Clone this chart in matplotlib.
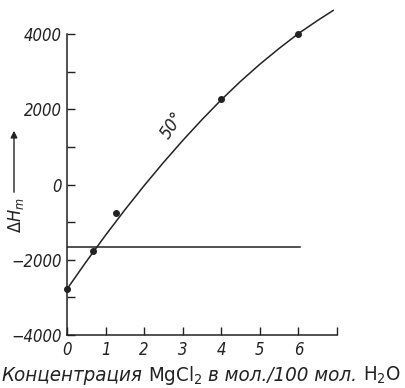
import matplotlib
matplotlib.use('Agg')
import matplotlib.pyplot as plt

# Данные
curve_x = [0, 0.5, 1.0, 1.5, 2.0, 2.5, 3.0, 3.5, 4.0, 4.5, 5.0, 5.5, 6.0, 6.5, 6.9]
curve_y = [-2780, -2049, -1347, -674, -30, 584, 1169, 1725, 2252, 2742, 3197, 3617, 4012, 4362, 4626]
pts_x = [0, 0.67, 1.26, 4.0, 6.0]
pts_y = [-2780, -1777, -752, 2260, 4010]
level_x = [0, 6.05]
level_y = [-1663, -1663]
xticks = [0, 1, 2, 3, 4, 5, 6, 7]
xlabels = ['0', '1', '2', '3', '4', '5', '6', '']
yticks = [-4000, -2000, 0, 2000, 4000]
ylabels = ['\u22124000', '\u22122000', '0', '2000', '4000']
yminor = [-3000, -1000, 1000, 3000]

plt.rcParams['font.family'] = ['DejaVu Sans']
plt.rcParams['font.stretch'] = 'condensed'
plt.rcParams['mathtext.fontset'] = 'dejavusans'

W, H = 405, 388
fig = plt.figure(figsize=(W / 100, H / 100), dpi=100)
ax = fig.add_axes([67 / W, 1 - 335 / H, 270 / W, 301 / H])
ink = '#222222'

ax.plot(curve_x, curve_y, color=ink, lw=1.1, clip_on=False)
ax.plot(pts_x, pts_y, 'o', color=ink, ms=4, clip_on=False)
ax.plot(level_x, level_y, color=ink, lw=1.1)

ax.set_xlim(0, 7)
ax.set_ylim(-4000, 4000)
ax.set_xticks(xticks)
ax.set_xticklabels(xlabels, style='italic', fontsize=12)
ax.set_yticks(yticks)
ax.set_yticklabels(ylabels, style='italic', fontsize=12)
ax.set_yticks(yminor, minor=True)
ax.tick_params(direction='in', length=6, width=1, color=ink, labelcolor=ink, pad=4)
ax.tick_params(which='minor', direction='in', length=6, width=1, color=ink)
for s in ['top', 'right']:
    ax.spines[s].set_visible(False)
for s in ['left', 'bottom']:
    ax.spines[s].set_color(ink)
    ax.spines[s].set_linewidth(1.1)

ax.text(2.72, 1580, '50°', rotation=57, style='italic', fontsize=13,
        color=ink, ha='center', va='center')

# подпись оси Y со стрелкой
fig.text(16 / W, 1 - 215 / H, r'$\mathit{\Delta H_m}$', rotation=90, fontsize=13,
         color=ink, ha='center', va='center')
ax.annotate('', xy=(14 / W, 1 - 128 / H), xytext=(14 / W, 1 - 195 / H),
            xycoords='figure fraction', textcoords='figure fraction',
            arrowprops=dict(arrowstyle='-|>', color=ink, lw=1, mutation_scale=10))

# подпись оси X из нескольких кусков, подогнанная по ширине
renderer = fig.canvas.get_renderer()
pieces = [('Концентрация', 'italic'), ('MgCl$_2$', 'normal'),
          ('в мол./100 мол.', 'italic'), ('H$_2$O', 'normal')]
texts = [fig.text(0, 1 - 381 / H, txt, style=st, fontsize=14, color=ink,
                  va='baseline', ha='left') for txt, st in pieces]
gap = 6
total = sum(t.get_window_extent(renderer).width for t in texts) + gap * (len(texts) - 1)
size = 14 * (402 - gap * 3) / (total - gap * 3)
xpos = 1
for t in texts:
    t.set_fontsize(size)
    t.set_x(xpos / W)
    xpos += t.get_window_extent(renderer).width + gap

fig.savefig('out.png', dpi=100)
